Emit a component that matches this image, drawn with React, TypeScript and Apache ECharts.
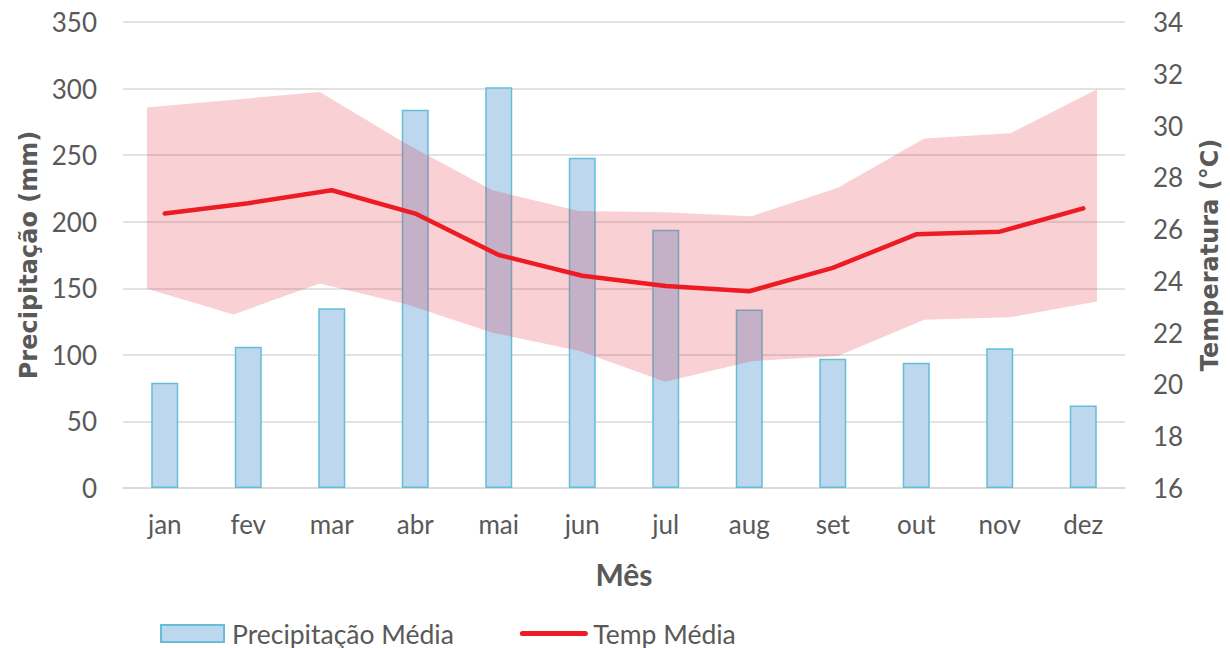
import React, { useEffect, useRef } from "react";
import * as echarts from "echarts";

const months = ["jan", "fev", "mar", "abr", "mai", "jun", "jul", "aug", "set", "out", "nov", "dez"];
const precipitation = [79, 106, 135, 284, 301, 248, 194, 134, 97, 94, 105, 62];
const tempMean = [26.6, 27.0, 27.5, 26.6, 25.0, 24.2, 23.8, 23.6, 24.5, 25.8, 25.9, 26.8];
const tempMax = [30.7, 31.0, 31.3, 29.3, 27.5, 26.7, 26.65, 26.5, 27.6, 29.5, 29.7, 31.4];
const tempMin = [23.7, 22.7, 23.9, 23.1, 22.0, 21.3, 20.1, 20.9, 21.1, 22.5, 22.6, 23.2];

const FONT = "Lato";
const TITLE_FONT = "DejaVu Sans";
const GRAY = "#595959";

export default function App() {
  const ref = useRef<HTMLDivElement>(null);
  useEffect(() => {
    const chart = echarts.init(ref.current!, null, { renderer: "svg" });
    const bandRange = tempMax.map((v, i) => +(v - tempMin[i]).toFixed(2));
    chart.setOption({
      animation: false,
      textStyle: { fontFamily: FONT, color: GRAY },
      grid: [
        { left: 123, right: 105, top: 22, bottom: 160 },
        { left: 147, right: 133, top: 22, bottom: 160 },
      ],
      legend: {
        left: 155,
        top: 615,
        itemWidth: 63,
        itemHeight: 17,
        itemGap: 66,
        textStyle: { fontFamily: FONT, fontSize: 26.5, color: GRAY, padding: [0, 0, 0, 3] },
        data: [
          { name: "Precipitação Média", icon: "rect" },
          {
            name: "Temp Média",
            itemStyle: { opacity: 0 },
            lineStyle: { width: 5, color: "#ED1C24", cap: "round" },
          },
        ],
      },
      xAxis: [
        {
          type: "category",
          gridIndex: 0,
          data: months,
          axisTick: { show: false },
          axisLine: { lineStyle: { color: "#D9D9D9", width: 1.5 } },
          axisLabel: { color: GRAY, fontSize: 26, margin: 23, fontFamily: FONT },
          name: "Mês",
          nameLocation: "middle",
          nameGap: 71,
          nameTextStyle: { color: GRAY, fontSize: 30, fontWeight: "bold", fontFamily: FONT },
        },
        {
          type: "category",
          gridIndex: 1,
          data: months,
          boundaryGap: false,
          show: false,
        },
      ],
      yAxis: [
        {
          type: "value",
          gridIndex: 0,
          min: 0,
          max: 350,
          interval: 50,
          axisLine: { show: false },
          axisTick: { show: false },
          splitLine: { lineStyle: { color: "#D9D9D9", width: 1.5 } },
          axisLabel: { color: GRAY, fontSize: 26, margin: 26, fontFamily: FONT },
          name: "Precipitação (mm)",
          nameLocation: "middle",
          nameGap: 82,
          nameTextStyle: { color: GRAY, fontSize: 24, fontWeight: "bold", fontFamily: TITLE_FONT },
        },
        {
          type: "value",
          gridIndex: 0,
          position: "right",
          min: 16,
          max: 34,
          interval: 2,
          axisLine: { show: false },
          axisTick: { show: false },
          splitLine: { show: false },
          axisLabel: { color: GRAY, fontSize: 26, margin: 28, fontFamily: FONT },
          name: "Temperatura (°C)",
          nameLocation: "middle",
          nameGap: 73,
          nameRotate: 90,
          nameTextStyle: { color: GRAY, fontSize: 24, fontWeight: "bold", fontFamily: TITLE_FONT },
        },
        {
          type: "value",
          gridIndex: 1,
          min: 16,
          max: 34,
          show: false,
          splitLine: { show: false },
        },
      ],
      series: [
        {
          name: "Precipitação Média",
          type: "bar",
          xAxisIndex: 0,
          yAxisIndex: 0,
          data: precipitation,
          barWidth: 27,
          z: 1,
          itemStyle: { color: "#BDD7EE", borderColor: "#63BFD6", borderWidth: 1.5 },
        },
        {
          name: "bandLow",
          type: "line",
          xAxisIndex: 1,
          yAxisIndex: 2,
          data: tempMin,
          stack: "band",
          symbol: "none",
          lineStyle: { opacity: 0 },
          z: 2,
        },
        {
          name: "bandHigh",
          type: "line",
          xAxisIndex: 1,
          yAxisIndex: 2,
          data: bandRange,
          stack: "band",
          symbol: "none",
          lineStyle: { opacity: 0 },
          areaStyle: { color: "rgba(228, 40, 56, 0.3)" },
          z: 2,
        },
        {
          name: "Temp Média",
          type: "line",
          xAxisIndex: 0,
          yAxisIndex: 1,
          data: tempMean,
          symbol: "none",
          itemStyle: { color: "#ED1C24" },
          lineStyle: { color: "#ED1C24", width: 4.5, cap: "round", join: "round" },
          z: 3,
        },
      ],
    });
    return () => chart.dispose();
  }, []);
  return <div ref={ref} style={{ width: 1230, height: 648, position: "absolute", left: 0, top: 0 }} />;
}
